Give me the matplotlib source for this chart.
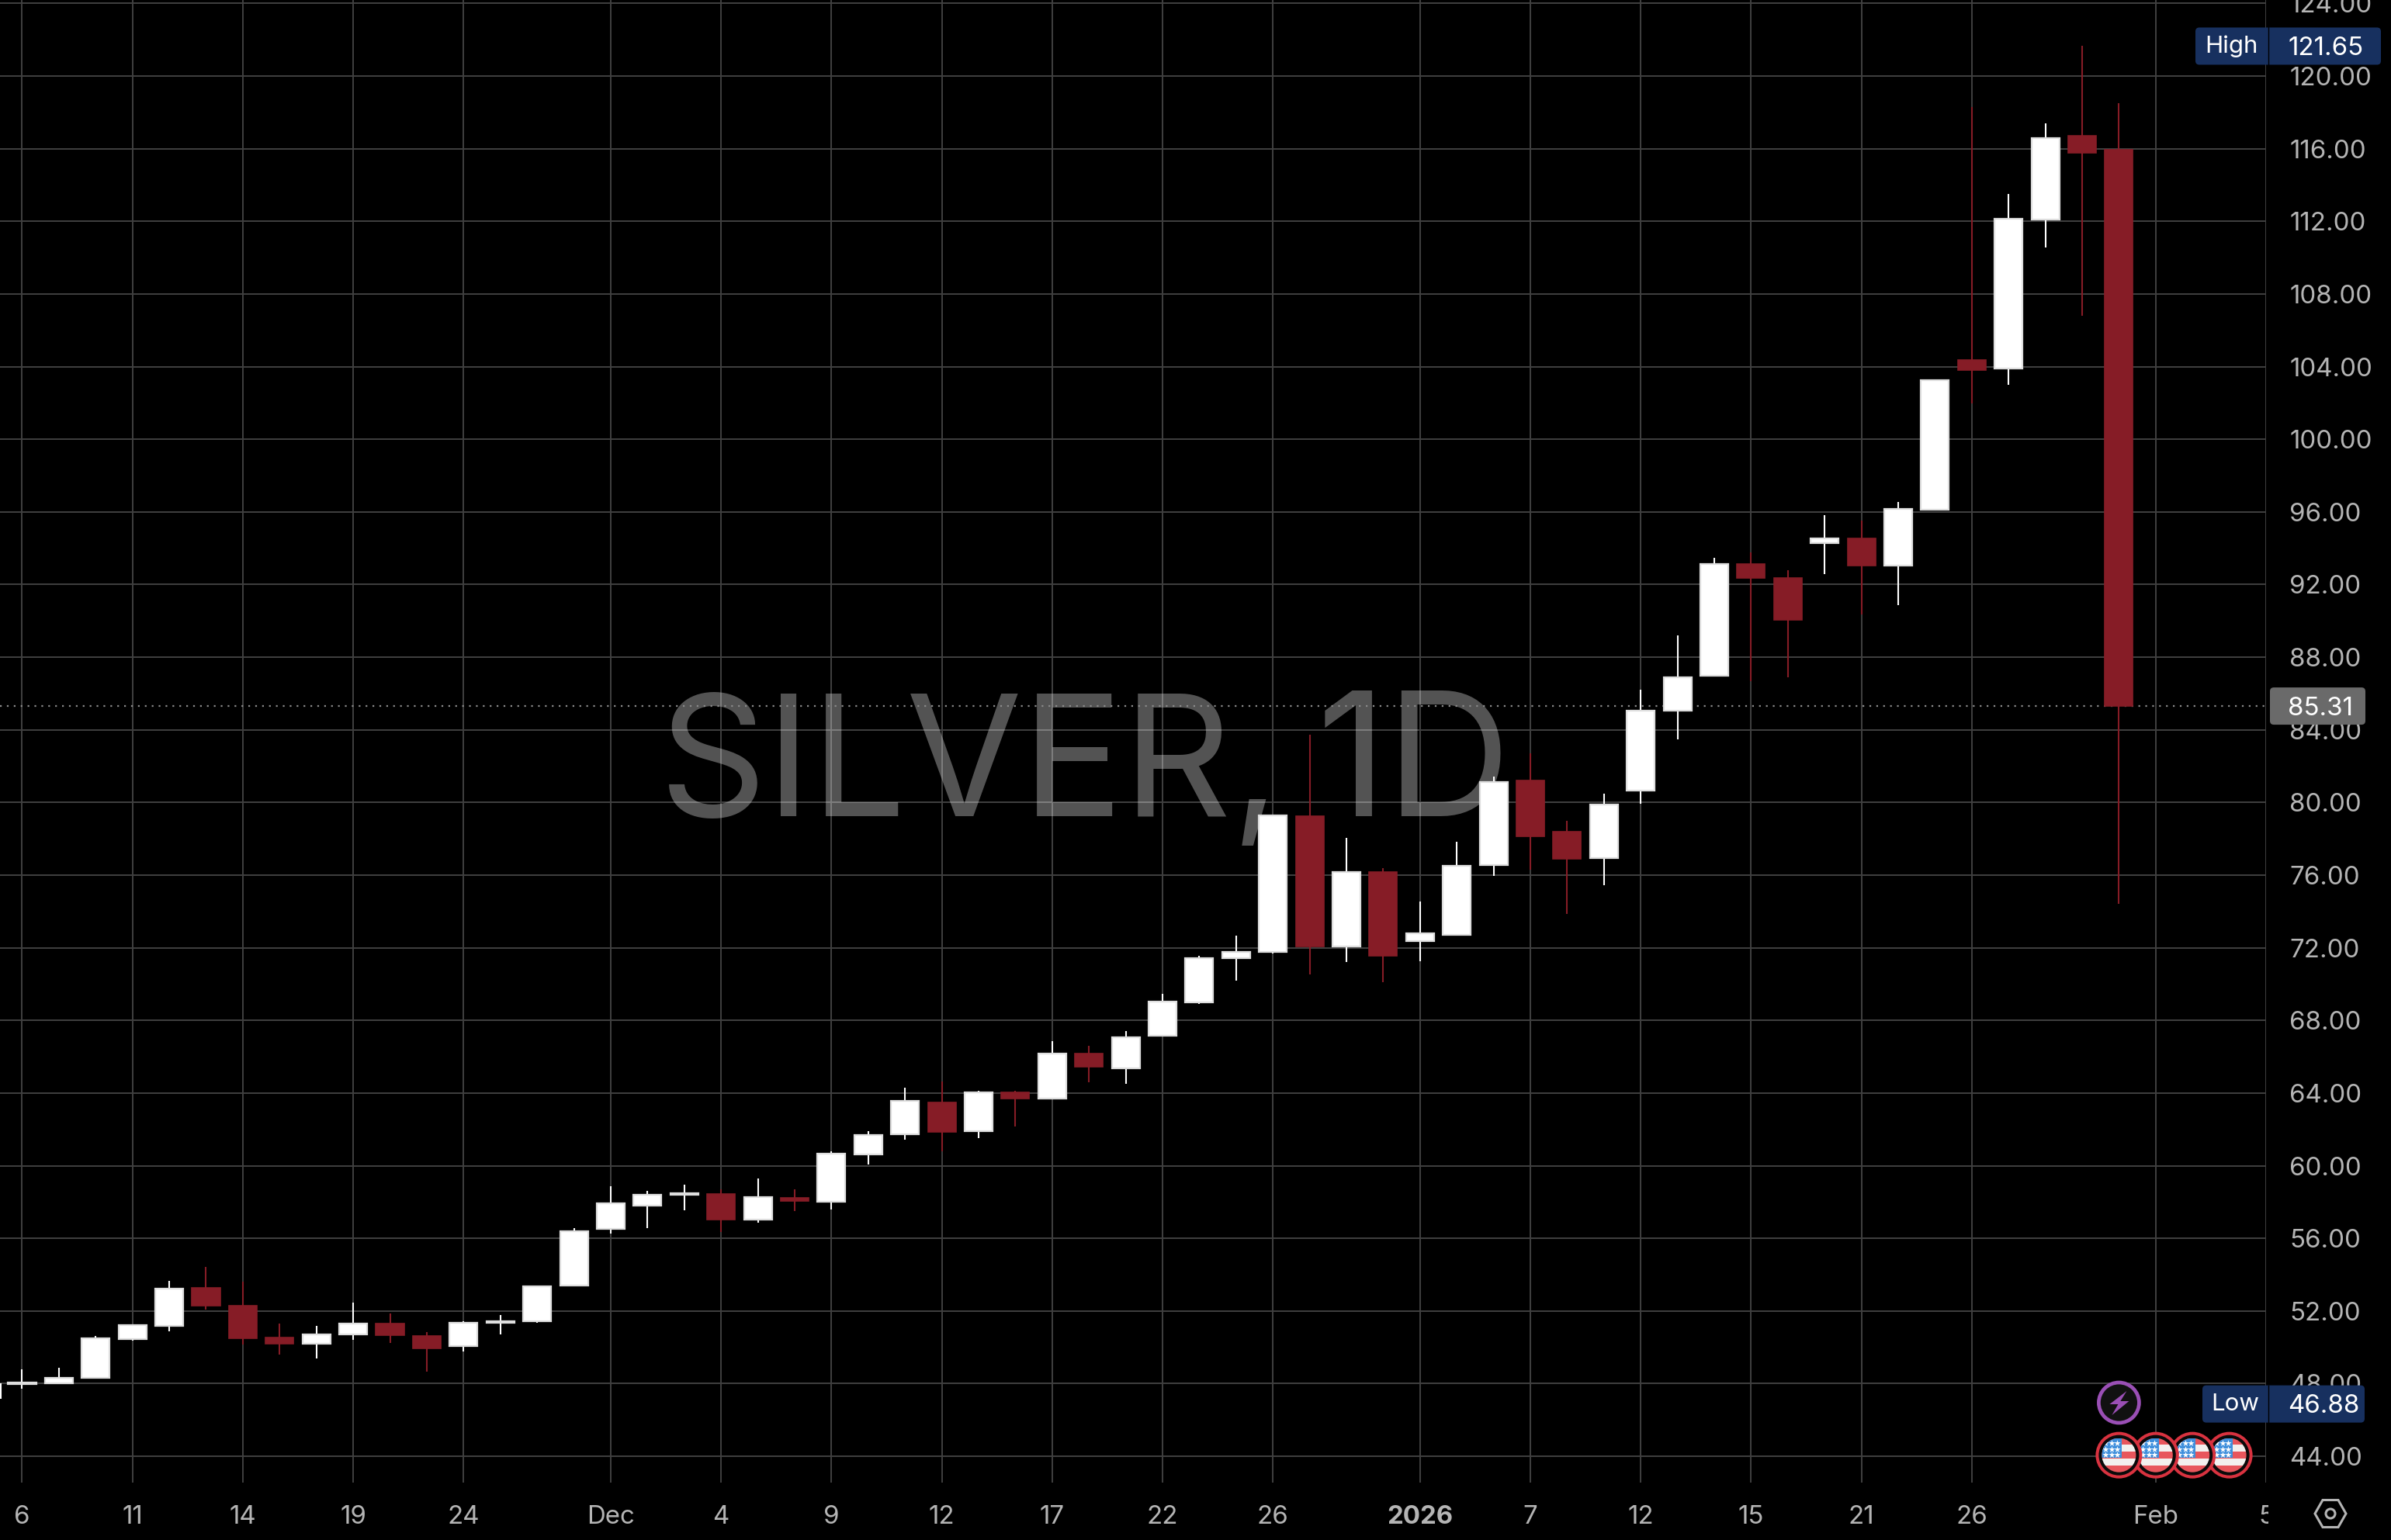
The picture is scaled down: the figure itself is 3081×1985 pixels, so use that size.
import numpy as np
import matplotlib
matplotlib.use('Agg')
import matplotlib.pyplot as plt
from matplotlib.patches import Circle, FancyBboxPatch, Polygon, Rectangle
from matplotlib.transforms import Bbox

plt.rcParams['font.family'] = ['Inter', 'DejaVu Sans']

# Denne svicky: open, high, low, close
opens = [47.98, 48.0, 48.3, 50.46, 51.2, 53.27, 52.3, 50.55, 50.18, 50.69, 51.32, 50.63, 50.05, 51.33,
         51.42, 53.4, 56.5, 57.82, 58.40, 58.45, 57.05, 58.23, 58.03, 60.6, 61.75, 63.48, 61.9, 64.03,
         63.68, 66.18, 65.38, 67.15, 68.98, 71.41, 71.77, 79.25, 72.08, 76.17, 72.35, 72.71, 76.55, 81.22,
         78.38, 76.92, 80.64, 85.04, 86.97, 93.13, 92.38, 94.27, 94.54, 93.05, 96.11, 104.37, 103.89, 112.1,
         116.71, 115.95]
highs = [48.8, 48.87, 50.63, 51.27, 53.67, 54.44, 53.6, 51.32, 51.17, 52.47, 51.87, 50.85, 51.43, 51.79,
         53.41, 56.56, 58.87, 58.62, 58.96, 58.68, 59.3, 58.7, 60.8, 61.9, 64.3, 64.63, 64.13, 64.13,
         66.87, 66.6, 67.4, 69.47, 71.55, 72.68, 79.3, 83.75, 78.06, 76.38, 74.56, 77.85, 81.44, 82.7,
         79.0, 80.48, 86.2, 89.2, 93.48, 93.76, 92.8, 95.84, 95.54, 96.57, 103.3, 118.3, 113.5, 117.4,
         121.65, 118.5]
lows = [47.7, 48.0, 48.3, 50.35, 50.9, 52.07, 50.15, 49.6, 49.4, 50.43, 50.26, 48.65, 49.75, 50.72,
        51.36, 53.4, 56.25, 56.57, 57.56, 56.37, 56.87, 57.5, 57.6, 60.07, 61.45, 60.8, 61.5, 62.18,
        63.68, 64.6, 64.5, 67.1, 68.9, 70.2, 71.7, 70.54, 71.2, 70.09, 71.24, 72.71, 75.94, 76.3,
        73.85, 75.46, 79.94, 83.46, 86.92, 86.7, 86.88, 92.59, 90.34, 90.85, 96.1, 101.98, 103.0, 110.56,
        106.8, 74.4]
closes = [48.05, 48.31, 50.49, 51.22, 53.25, 52.31, 50.5, 50.18, 50.7, 51.3, 50.65, 49.96, 51.34, 51.44,
          53.34, 56.39, 57.95, 58.39, 58.49, 57.04, 58.26, 58.06, 60.66, 61.67, 63.56, 61.88, 64.03, 63.68,
          66.17, 65.43, 67.09, 69.04, 71.42, 71.77, 79.27, 72.08, 76.17, 71.57, 72.78, 76.5, 81.13, 78.15,
          76.9, 79.87, 85.06, 86.89, 93.12, 92.35, 90.04, 94.54, 93.06, 96.15, 103.25, 103.83, 112.14, 116.6,
          115.77, 85.31]

x_tick_pos = [0, 3, 6, 9, 12, 16, 19, 22, 25, 28, 31, 34, 38, 41, 44, 47, 50, 53, 58, 61]
x_tick_labels = ['6', '11', '14', '19', '24', 'Dec', '4', '9', '12', '17', '22', '26', '2026', '7', '12',
                 '15', '21', '26', 'Feb', '5']
y_ticks = list(range(44, 125, 4))

last_price = 85.31
high_price = 121.65
low_price = 46.88
flag_pos = [57, 58, 59, 60]
flag_price = 44.06
bolt_pos = 57
bolt_price = 46.95

W, H = 3081, 1985
PLOT_R, PLOT_B = 2920, 1911
UP = '#ffffff'
DOWN = '#861c26'
GRID = '#404040'
LABEL = '#b4b4b4'
NAVY = '#17305f'
FS = 23.8

fig = plt.figure(figsize=(W / 100, H / 100), dpi=100, facecolor='black')
ax = fig.add_axes([0, 1 - PLOT_B / H, PLOT_R / W, PLOT_B / H], facecolor='black')
ax.set_xlim(-0.601, 61.0)
ax.set_ylim(42.55, 124.19)
for s in ax.spines.values():
    s.set_visible(False)

ax.set_xticks(x_tick_pos)
ax.set_xticklabels(x_tick_labels)
ax.set_yticks(y_ticks)
ax.set_yticklabels([f'{v:.2f}' for v in y_ticks])
ax.yaxis.tick_right()
ax.tick_params(axis='y', length=0, pad=21.6, labelsize=FS, labelcolor=LABEL)
ax.tick_params(axis='x', length=0, pad=21, labelsize=FS, labelcolor=LABEL)
ax.grid(True, color=GRID, lw=1.4)
ax.set_axisbelow(True)
for lab in ax.get_xticklabels():
    if lab.get_text() == '2026':
        lab.set_fontweight('bold')
    if lab.get_text() == '5':
        lab.set_clip_box(Bbox([[0, 0], [2923, H]]))
        lab.set_clip_on(True)

# vodoznak, medzera za ciarkou je v originale sirsia
ax.text(17.3, 79.25, 'SILVER,', fontsize=156, color='white', alpha=0.33, ha='left', va='baseline', zorder=1.5)
ax.text(35.2, 79.25, '1D', fontsize=160, color='white', alpha=0.33, ha='left', va='baseline', zorder=1.5)

ax.axhline(last_price, color='#8a8a8a', lw=1.6, ls=(0, (1, 3)), zorder=1.7)

xs = np.arange(len(opens))
opens_a, closes_a = np.array(opens), np.array(closes)
up = closes_a >= opens_a
colors = [UP if u else DOWN for u in up]
ax.vlines(xs, lows, highs, colors=colors, lw=1.5, zorder=3)
bw = 0.76
ax.bar(xs[up], (closes_a - opens_a)[up], bottom=opens_a[up], width=bw, color=UP,
       edgecolor='#dedede', lw=1.6, zorder=4)
ax.bar(xs[~up], (closes_a - opens_a)[~up], bottom=opens_a[~up], width=bw, color=DOWN,
       edgecolor=DOWN, lw=1.2, zorder=4)

# orez predchadzajucej svicky na lavom okraji
ax.vlines(-0.59, 47.15, 48.0, colors=UP, lw=1.5, zorder=3)

# vrstva v pixeloch pre popisky a ikony
ov = fig.add_axes([0, 0, 1, 1], facecolor='none')
ov.set_xlim(0, W)
ov.set_ylim(H, 0)
ov.axis('off')


def to_px(x, y):
    px, py = ax.transData.transform((x, y))
    return px, H - py


def price_box(price, left, right, split, name, color):
    _, cy = to_px(0, price)
    ov.add_patch(FancyBboxPatch((left + 5, cy - 19), right - left - 10, 38,
                                boxstyle='round,pad=5', fc=color, ec='none', zorder=6))
    if name:
        ov.plot([split, split], [cy - 24, cy + 24], color='black', lw=1.0, zorder=7)
        ov.text((left + split) / 2, cy, name, color='white', fontsize=22.5, ha='center', va='center', zorder=8)
    ov.text(2948, cy + 3, f'{price:.2f}', color='white', fontsize=FS, ha='left', va='center', zorder=8)


price_box(high_price, 2829, 3068, 2923, 'High', NAVY)
price_box(low_price, 2838, 3047, 2923, 'Low', NAVY)
price_box(last_price, 2925, 3048, 2923, '', '#6a6a6a')

# ikona blesku
bx, by = to_px(bolt_pos, bolt_price)
ov.add_patch(Circle((bx, by), 26, fc='#111111', ec='#9a4fb5', lw=3.4, zorder=6))
ov.add_patch(Polygon([(bx + 10, by - 15), (bx - 12, by + 2), (bx - 1, by + 2), (bx - 9, by + 16),
                      (bx + 13, by - 2), (bx + 2, by - 2)], fc='#9a4fb5', ec='none', zorder=7))

# vlajky, lava je navrchu
for i, pos in reversed(list(enumerate(flag_pos))):
    z = 10 + (len(flag_pos) - i) * 3
    fx, fy = to_px(pos, flag_price)
    ov.add_patch(Circle((fx, fy), 30, fc='#d8323f', ec='none', zorder=z))
    ov.add_patch(Circle((fx, fy), 26, fc='#0a0a0a', ec='none', zorder=z))
    clip = Circle((fx, fy), 22, transform=ov.transData)
    stripes = ['#e8565c', '#f3f0ee', '#e8565c', '#f3f0ee', '#e8565c']
    for k, c in enumerate(stripes):
        r = ov.add_patch(Rectangle((fx - 23, fy - 22 + k * 8.8), 46, 8.8, fc=c, ec='none', zorder=z + 1))
        r.set_clip_path(clip)
    r = ov.add_patch(Rectangle((fx - 23, fy - 22), 27, 25, fc='#3f8fdc', ec='none', zorder=z + 1))
    r.set_clip_path(clip)
    sx, sy = np.meshgrid([fx - 17, fx - 9, fx - 2], [fy - 16, fy - 8, fy - 1])
    st = ov.scatter(sx.ravel(), sy.ravel(), s=38, marker='*', color='white', lw=0, zorder=z + 2)
    st.set_clip_path(clip)

# ikona nastaveni
cx, cy = 3003, 1951
hexa = [(cx - 20, cy), (cx - 10, cy - 17.5), (cx + 10, cy - 17.5), (cx + 20, cy), (cx + 10, cy + 17.5), (cx - 10, cy + 17.5)]
ov.add_patch(Polygon(hexa, fc='none', ec=LABEL, lw=2.2, joinstyle='miter', zorder=6))
ov.add_patch(Circle((cx, cy), 6, fc='none', ec=LABEL, lw=2.2, zorder=6))

fig.savefig('out.png', dpi=100, facecolor='black')
